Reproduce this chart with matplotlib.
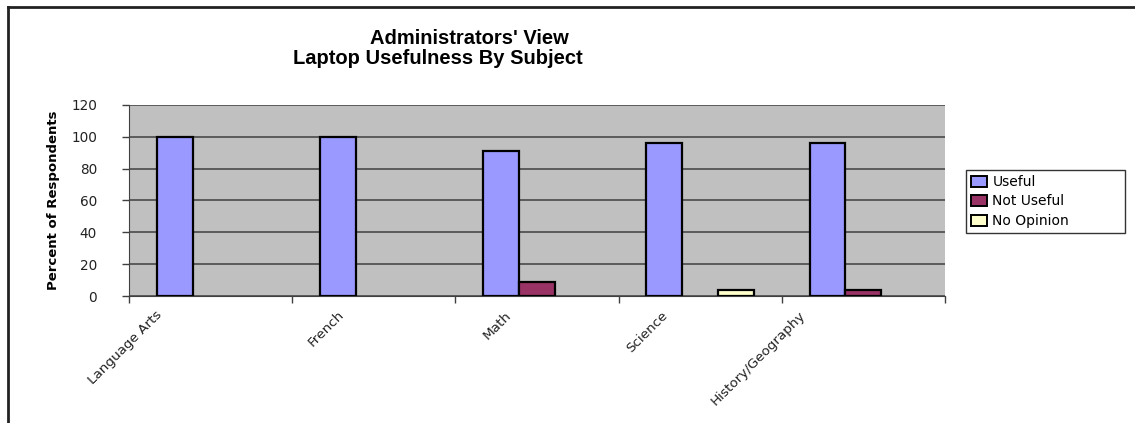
import matplotlib
matplotlib.use("Agg")
import matplotlib.pyplot as plt
import matplotlib.transforms as mtransforms
from matplotlib.lines import Line2D
from matplotlib.patches import Patch
import numpy as np

categories = ["Language Arts", "French", "Math", "Science", "History/Geography"]
series_names = ["Useful", "Not Useful", "No Opinion"]
useful = [100, 100, 91, 96, 96]
not_useful = [0, 0, 9, 0, 4]
no_opinion = [0, 0, 0, 4, 0]
y_ticks = [0, 20, 40, 60, 80, 100, 120]

colors = ["#9999FF", "#993366", "#FFFFCC"]

W, H = 1135, 423
fig = plt.figure(figsize=(W / 100, H / 100), dpi=100)
fig.patch.set_facecolor("white")

ax = fig.add_axes([129 / W, 1 - 296 / H, (945 - 129) / W, (296 - 105) / H])
ax.set_facecolor("#C0C0C0")

x = np.arange(len(categories)) + 0.5
bw = 0.22
for k, (vals, c, name) in enumerate(zip([useful, not_useful, no_opinion], colors, series_names)):
    xs = x + (k - 1) * bw
    bars = ax.bar(xs, vals, width=bw, color=c, edgecolor="black", linewidth=1.6, zorder=3)
    for b, v in zip(bars, vals):
        if v == 0:
            b.set_visible(False)

ax.set_xlim(0, len(categories))
ax.set_ylim(0, 120)
ax.set_yticks(y_ticks)
ax.yaxis.grid(True, color="#404040", linewidth=1.1, zorder=1)
ax.set_xticks(np.arange(len(categories) + 1))
ax.set_xticklabels([])
for s in ["top", "right"]:
    ax.spines[s].set_visible(False)
ax.spines["left"].set_color("#404040")
ax.spines["bottom"].set_color("#404040")
ax.tick_params(axis="both", direction="out", length=5, width=1, color="#404040")
ax.tick_params(axis="y", labelsize=9.8, pad=18, labelcolor="#222222")
for lab in ax.get_yticklabels():
    lab.set_fontfamily("DejaVu Sans")

# category labels, rotated 45 degrees
texts = []
for xi, cat in zip(x, categories):
    t = ax.text(xi, 0, cat, rotation=45, rotation_mode="anchor",
                ha="right", va="center", fontsize=9.7, family="DejaVu Sans", color="#222222")
    texts.append(t)
fig.canvas.draw()
renderer = fig.canvas.get_renderer()
for t in texts:
    wbox = t.get_window_extent(renderer).width
    dx = -(wbox / 2 + 11)
    t.set_transform(ax.transData + mtransforms.ScaledTranslation(dx / 100, -17 / 100,
                                                                  fig.dpi_scale_trans))

ax.set_ylabel("Percent of Respondents", fontsize=9.5, fontweight="bold",
              family="DejaVu Sans")
ax.yaxis.set_label_coords(-(129 - 60) / (945 - 129), 0.5)

fig.text(469 / W, 1 - 38 / H, "Administrators' View", ha="center", va="center",
         fontsize=14.5, fontweight="bold", family="Liberation Sans")
fig.text(438 / W, 1 - 58 / H, "Laptop Usefulness By Subject", ha="center", va="center",
         fontsize=14.5, fontweight="bold", family="Liberation Sans")

handles = [Patch(facecolor=c, edgecolor="black", linewidth=1.4) for c in colors]
leg = fig.legend(handles, series_names, loc="upper left",
                 bbox_to_anchor=(966 / W, 1 - 234 / H, (1125 - 966) / W, (234 - 170) / H),
                 mode="expand", frameon=True, fancybox=False, handlelength=1.15,
                 handleheight=0.85, handletextpad=0.4, borderpad=0.35, labelspacing=0.4,
                 borderaxespad=0, prop={"family": "DejaVu Sans", "size": 10})
leg.get_frame().set_edgecolor("black")
leg.get_frame().set_linewidth(1.0)

# chart area frame (top and left)
fig.add_artist(Line2D([8 / W, 1], [1 - 7 / H, 1 - 7 / H], color="#222222", linewidth=2,
                      transform=fig.transFigure))
fig.add_artist(Line2D([8 / W, 8 / W], [0, 1 - 7 / H], color="#222222", linewidth=2,
                      transform=fig.transFigure))

fig.savefig("out.png", dpi=100)
